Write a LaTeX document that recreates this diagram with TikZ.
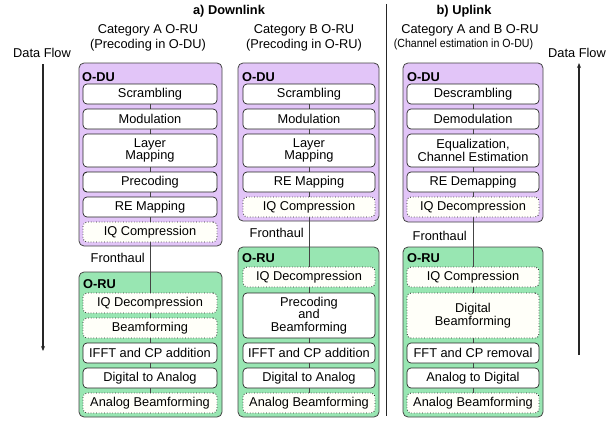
\documentclass[tikz,border=0pt]{standalone}
\usepackage{fontspec}
\setmainfont{Liberation Sans}
\usetikzlibrary{arrows.meta}
\definecolor{duFill}{HTML}{E2C5F8}
\definecolor{ruFill}{HTML}{98E6B2}
\definecolor{edgeC}{HTML}{444444}
\definecolor{dotFill}{HTML}{FFFFF9}
\pgfdeclarelayer{bg}
\pgfdeclarelayer{mid}
\pgfsetlayers{bg,mid,main}
\tikzset{
  every node/.style={font=\fontsize{12.8}{12.5}\selectfont, inner sep=0pt},
  contDU/.style={draw=edgeC, line width=0.8pt, fill=duFill, rounded corners=5pt},
  contRU/.style={draw=edgeC, line width=0.8pt, fill=ruFill, rounded corners=5pt},
  blk/.style={draw=black!85, line width=0.7pt, fill=white, rounded corners=4pt, align=center, minimum height=20pt},
  dotblk/.style={blk, dotted, line width=0.9pt, fill=dotFill},
  wA/.style={minimum width=134pt},
  wB/.style={minimum width=132pt},
  hdr/.style={font=\fontsize{12.8}{14}\selectfont\bfseries},
  conn/.style={draw=edgeC, line width=0.8pt},
  flow/.style={draw=black!85, line width=1.2pt, -{Stealth[length=5pt,width=4pt]}},
}
\begin{document}
\begin{tikzpicture}[x=1pt,y=-1pt]
\useasboundingbox (0,0) rectangle (609,420);

% titles
\node[hdr] (tA) at (229,11) {a) Downlink};
\node[hdr] (tB) at (464,11) {b) Uplink};
\node (catA1) at (148,30) {Category A O-RU};
\node (catA2) at (148,45) {(Precoding in O-DU)};
\node (catB1) at (304,30) {Category B O-RU};
\node (catB2) at (304,45) {(Precoding in O-RU)};
\node (catC1) at (470,30) {Category A and B O-RU};
\node[font=\fontsize{11.8}{12}\selectfont, xscale=0.9] (catC2) at (463.5,44) {(Channel estimation in O-DU)};

% data flow
\node (dfL) at (42,53) {Data Flow};
\node (dfR) at (577,53) {Data Flow};
\coordinate (dfLs) at (43,64);
\coordinate (dfLe) at (43,351);
\coordinate (dfRs) at (579,355);
\coordinate (dfRe) at (579,63);
\draw[flow] (dfLs) -- (dfLe);
\draw[flow] (dfRs) -- (dfRe);

% divider
\coordinate (divT) at (386,4);
\coordinate (divB) at (386,416);
\draw[line width=0.9pt, draw=black!85] (divT) -- (divB);

% containers
\begin{pgfonlayer}{bg}
\node[contDU, minimum width=143pt, minimum height=183pt] (duA) at (150.5,154.5) {};
\node[contRU, minimum width=143pt, minimum height=145pt] (ruA) at (150.5,344.5) {};
\node[contDU, minimum width=141pt, minimum height=158pt] (duB) at (308.5,142) {};
\node[contRU, minimum width=141pt, minimum height=170pt] (ruB) at (308.5,332) {};
\node[contDU, minimum width=140pt, minimum height=159pt] (duC) at (473,142.5) {};
\node[contRU, minimum width=140pt, minimum height=170pt] (ruC) at (473,332) {};
\end{pgfonlayer}

% column A
\node[hdr, anchor=west] (lduA) at (82,77) {O-DU};
\node[blk,wA] (a1) at (150,94) {Scrambling};
\node[blk,wA] (a2) at (150,119) {Modulation};
\node[blk,wA,minimum height=33pt] (a3) at (150,150.5) {Layer\\Mapping};
\node[blk,wA,line width=0.9pt] (a4) at (150,182) {Precoding};
\node[blk,wA] (a5) at (150,207) {RE Mapping};
\node[dotblk,wA] (a6) at (150,232) {IQ Compression};
\node[anchor=east] (fhA) at (145,258) {Fronthaul};
\node[hdr, anchor=west] (lruA) at (83,284) {O-RU};
\node[dotblk,wA] (a7) at (150,303) {IQ Decompression};
\node[dotblk,wA] (a8) at (150,328) {Beamforming};
\node[blk,wA] (a9) at (150,353) {IFFT and CP addition};
\node[blk,wA] (a10) at (150,378) {Digital to Analog};
\node[dotblk,wA] (a11) at (150,403) {Analog Beamforming};

% column B
\node[hdr, anchor=west] (lduB) at (242,77) {O-DU};
\node[blk,wB] (b1) at (309,94) {Scrambling};
\node[blk,wB] (b2) at (309,119) {Modulation};
\node[blk,wB,minimum height=33pt] (b3) at (309,150.5) {Layer\\Mapping};
\node[blk,wB] (b4) at (309,182) {RE Mapping};
\node[dotblk,wB] (b5) at (309,207) {IQ Compression};
\node[anchor=east] (fhB) at (304,233) {Fronthaul};
\node[hdr, anchor=west] (lruB) at (242,258) {O-RU};
\node[dotblk,wB] (b6) at (309,277) {IQ Decompression};
\node[blk,wB,minimum height=45pt] (b7) at (309,315.5) {Precoding\\and\\Beamforming};
\node[blk,wB] (b8) at (309,353) {IFFT and CP addition};
\node[blk,wB] (b9) at (309,378) {Digital to Analog};
\node[dotblk,wB] (b10) at (309,403) {Analog Beamforming};

% column C
\node[hdr, anchor=west] (lduC) at (407,77) {O-DU};
\node[blk,wB] (c1) at (473,94) {Descrambling};
\node[blk,wB] (c2) at (473,119) {Demodulation};
\node[blk,wB,minimum height=33pt] (c3) at (473,150.5) {Equalization,\\Channel Estimation};
\node[blk,wB] (c4) at (473,182) {RE Demapping};
\node[dotblk,wB] (c5) at (473,207) {IQ Decompression};
\node[anchor=east] (fhC) at (467,236) {Fronthaul};
\node[hdr, anchor=west] (lruC) at (407,258) {O-RU};
\node[dotblk,wB] (c6) at (473,277) {IQ Compression};
\node[dotblk,wB,minimum height=45pt] (c7) at (473,315.5) {Digital\\Beamforming};
\node[blk,wB] (c8) at (473,353) {FFT and CP removal};
\node[blk,wB] (c9) at (473,378) {Analog to Digital};
\node[dotblk,wB] (c10) at (473,403) {Analog Beamforming};

% connecting lines
\begin{pgfonlayer}{mid}
\draw[conn] (a1.center) -- (a11.center);
\draw[conn] (b1.center) -- (b10.center);
\draw[conn] (c1.center) -- (c10.center);
\end{pgfonlayer}
\end{tikzpicture}
\end{document}
